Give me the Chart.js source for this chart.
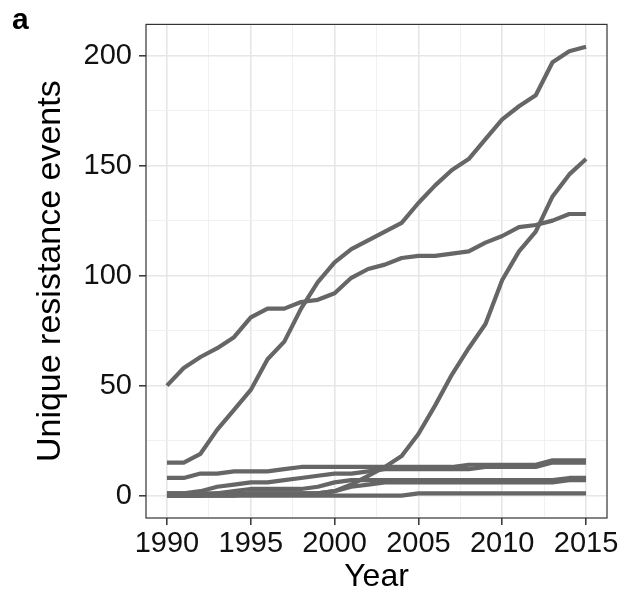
<!DOCTYPE html>
<html>
<head>
<meta charset="utf-8">
<style>
  body { margin: 0; padding: 0; background: #fff; }
  #wrap { position: relative; width: 633px; height: 599px; }
  #panel-tag {
    position: absolute; left: 12px; top: 2px;
    font-family: "Liberation Sans", Arial, sans-serif;
    font-weight: bold; font-size: 30px; color: #000;
  }
</style>
</head>
<body>
<div id="wrap">
  <canvas id="chart" width="633" height="599"></canvas>
  <div id="panel-tag">a</div>
</div>

<script src="https://cdn.jsdelivr.net/npm/chart.js"></script>
<script>
// data
const years = [1990, 1991, 1992, 1993, 1994, 1995, 1996, 1997, 1998, 1999, 2000, 2001, 2002,
               2003, 2004, 2005, 2006, 2007, 2008, 2009, 2010, 2011, 2012, 2013, 2014, 2015];

const lineA = [15, 15, 19, 30, 39, 48, 62, 70, 85, 97, 106, 112, 116, 120, 124, 133, 141, 148, 153, 162, 171, 177, 182, 197, 202, 204];
const lineB = [50, 58, 63, 67, 72, 81, 85, 85, 88, 89, 92, 99, 103, 105, 108, 109, 109, 110, 111, 115, 118, 122, 123, 125, 128, 128];
const lineC = [1, 1, 1, 1, 1, 1, 1, 1, 1, 1, 2, 5, 9, 13, 18, 28, 41, 55, 67, 78, 98, 111, 120, 136, 146, 153];
const lineD = [8, 8, 10, 10, 11, 11, 11, 12, 13, 13, 13, 13, 13, 13, 13, 13, 13, 13, 14, 14, 14, 14, 14, 16, 16, 16];
const lineE = [1, 1, 2, 4, 5, 6, 6, 7, 8, 9, 10, 10, 11, 12, 12, 12, 12, 12, 12, 13, 13, 13, 13, 15, 15, 15];
const lineF = [0, 0, 0, 1, 2, 3, 3, 3, 3, 4, 6, 7, 7, 7, 7, 7, 7, 7, 7, 7, 7, 7, 7, 7, 8, 8];
const lineG = [0, 0, 0, 0, 0, 1, 1, 1, 1, 1, 2, 4, 5, 6, 6, 6, 6, 6, 6, 6, 6, 6, 6, 6, 7, 7];
const lineH = [0, 0, 0, 0, 0, 0, 0, 0, 0, 0, 0, 0, 0, 0, 0, 1, 1, 1, 1, 1, 1, 1, 1, 1, 1, 1];

const allLines = [lineH, lineG, lineF, lineE, lineD, lineC, lineB, lineA];

// grid positions (major + minor); only majors get a label and tick mark
const xTickValues = [1990, 1992.5, 1995, 1997.5, 2000, 2002.5, 2005, 2007.5, 2010, 2012.5, 2015];
const yTickValues = [0, 25, 50, 75, 100, 125, 150, 175, 200];

const xTitle = "Year";
const yTitle = "Unique resistance events";

const FONT = '"Liberation Sans", Arial, Helvetica, sans-serif';
const LINE_COLOR = '#666666';
const GRID_MAJOR = '#e6e6e6';
const GRID_MINOR = '#eeeeee';

// ggplot-like panel border drawn over the plot area
const panelBorder = {
  id: 'panelBorder',
  afterDatasetsDraw(chart) {
    const { ctx, chartArea: a } = chart;
    ctx.save();
    ctx.strokeStyle = '#333333';
    ctx.lineWidth = 1.2;
    ctx.strokeRect(a.left, a.top, a.right - a.left, a.bottom - a.top);
    ctx.restore();
  }
};

const isMajor = (v, step) => Math.abs(v / step - Math.round(v / step)) < 1e-6;

function axisGrid(step) {
  return {
    color: c => isMajor(c.tick.value, step) ? GRID_MAJOR : GRID_MINOR,
    lineWidth: c => isMajor(c.tick.value, step) ? 1.6 : 0.8,
    tickColor: c => isMajor(c.tick.value, step) ? '#333333' : 'rgba(0,0,0,0)',
    tickWidth: 1.5,
    tickLength: 7,
    drawTicks: true
  };
}

new Chart(document.getElementById('chart'), {
  type: 'line',
  data: {
    datasets: allLines.map(vals => ({
      data: vals.map((v, i) => ({ x: years[i], y: v })),
      borderColor: LINE_COLOR,
      borderWidth: 4.2,
      pointRadius: 0,
      tension: 0,
      fill: false,
      borderJoinStyle: 'round',
      borderCapStyle: 'butt'
    }))
  },
  options: {
    responsive: false,
    animation: false,
    devicePixelRatio: 1,
    layout: { padding: { top: 22, right: 26, left: 0, bottom: 0 } },
    plugins: {
      legend: { display: false },
      tooltip: { enabled: false }
    },
    scales: {
      x: {
        type: 'linear',
        min: 1988.75,
        max: 2016.25,
        bounds: 'data',
        afterBuildTicks: s => { s.ticks = xTickValues.map(v => ({ value: v })); },
        afterFit: s => { s.height = 81; },
        border: { display: false },
        grid: axisGrid(5),
        ticks: {
          autoSkip: false,
          maxRotation: 0,
          padding: 2,
          color: '#111111',
          font: { family: FONT, size: 29 },
          callback: v => isMajor(v, 5) ? String(v) : ''
        },
        title: {
          display: true,
          text: xTitle,
          color: '#000000',
          font: { family: FONT, size: 32 },
          padding: { top: 0, bottom: 3 }
        }
      },
      y: {
        type: 'linear',
        min: -10.2,
        max: 214.2,
        bounds: 'data',
        afterBuildTicks: s => { s.ticks = yTickValues.map(v => ({ value: v })); },
        afterFit: s => { s.width = 146; },
        border: { display: false },
        grid: axisGrid(50),
        ticks: {
          autoSkip: false,
          padding: 7,
          color: '#111111',
          font: { family: FONT, size: 29 },
          callback: v => isMajor(v, 50) ? String(v) : ''
        },
        title: {
          display: true,
          text: yTitle,
          color: '#000000',
          font: { family: FONT, size: 34 },
          padding: { top: 30, bottom: 0 }
        }
      }
    }
  },
  plugins: [panelBorder]
});
</script>
</body>
</html>
